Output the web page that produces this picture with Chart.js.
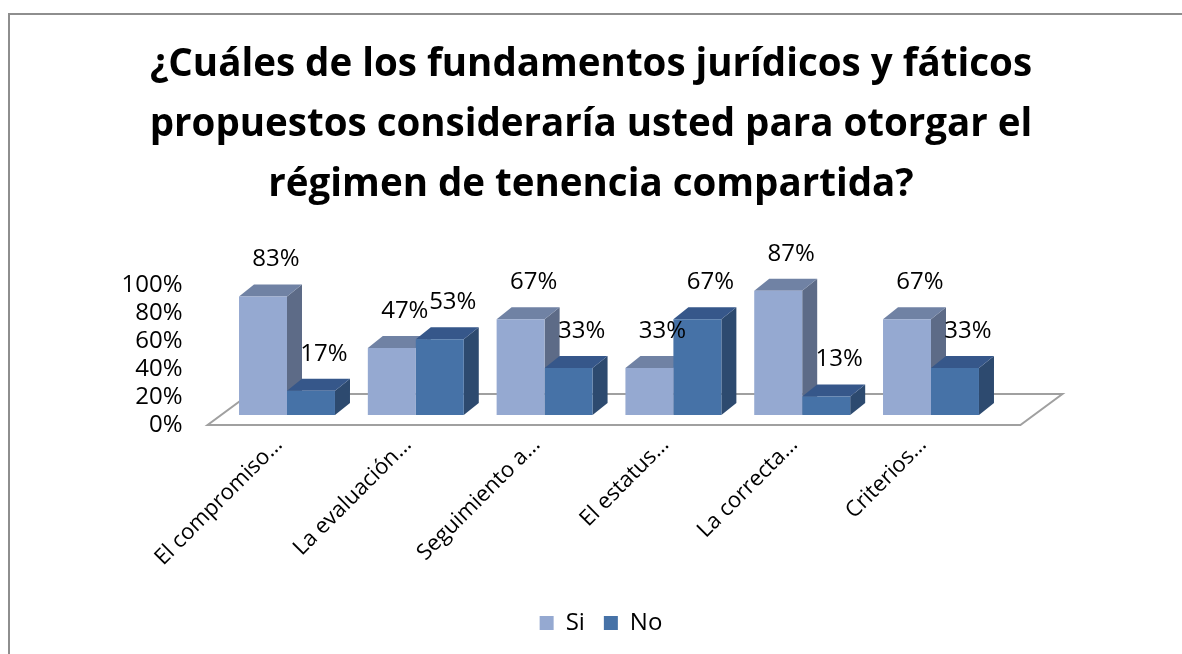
<!DOCTYPE html>
<html>
<head>
<meta charset="utf-8">
<script src="https://cdn.jsdelivr.net/npm/chart.js@4"></script>
<style>
  html, body { margin: 0; padding: 0; background: #fff; overflow: hidden; }
  #wrap { position: relative; width: 1182px; height: 654px; }
  #frame { position: absolute; left: 8px; top: 13px; width: 1400px; height: 900px;
           border-top: 2px solid #8e8e8e; border-left: 2px solid #8e8e8e; pointer-events: none; }
</style>
</head>
<body>
<div id="wrap">
  <canvas id="canvas"></canvas>
  <div id="frame"></div>
</div>
<script>
// chart data
const categories = ['El compromiso…', 'La evaluación…', 'Seguimiento a…', 'El estatus…', 'La correcta…', 'Criterios…'];
const siValues = [83, 47, 67, 33, 87, 67];
const noValues = [17, 53, 33, 67, 13, 33];
const yTicks = [0, 20, 40, 60, 80, 100];
const titleLines = [
  '¿Cuáles de los fundamentos jurídicos y fáticos',
  'propuestos consideraría usted para otorgar el',
  'régimen de tenencia compartida?'
];

// colours: front, top, side
const frontColors = ['#95a9d1', '#4672a7'];
const topColors = ['#7082a4', '#36578a'];
const sideColors = ['#5d6b87', '#2d4a6f'];

const FONT = '"Open Sans", sans-serif';
const dx = 15, dy = -12;

function poly(ctx, pts, fill) {
  ctx.beginPath();
  ctx.moveTo(pts[0][0], pts[0][1]);
  for (let k = 1; k < pts.length; k++) ctx.lineTo(pts[k][0], pts[k][1]);
  ctx.closePath();
  ctx.fillStyle = fill;
  ctx.fill();
}

// floor + side/top faces of the bars (fronts are drawn by chart.js)
const box3d = {
  id: 'box3d',
  afterLayout(chart) {
    // legend sits a little right of centre in the original
    chart.legend.left += 10;
    chart.legend.right += 10;
  },
  beforeDatasetsDraw(chart) {
    const ctx = chart.ctx;
    const a = chart.chartArea;
    ctx.save();
    // floor
    const fl = a.left - 15, fr = a.right + 25, fb = a.bottom;
    ctx.beginPath();
    ctx.moveTo(fl, fb);
    ctx.lineTo(fr, fb);
    ctx.lineTo(fr + 42, fb - 31);
    ctx.lineTo(fl + 42, fb - 31);
    ctx.closePath();
    ctx.fillStyle = '#fff';
    ctx.fill();
    ctx.strokeStyle = '#a0a0a0';
    ctx.lineWidth = 2;
    ctx.stroke();

    const n = chart.data.labels.length;
    for (let j = 0; j < n; j++) {
      for (let i = 0; i < chart.data.datasets.length; i++) {
        const bar = chart.getDatasetMeta(i).data[j];
        const l = bar.x - bar.width / 2, r = bar.x + bar.width / 2;
        const t = bar.y, b = bar.base;
        poly(ctx, [[r, t], [r + dx, t + dy], [r + dx, b + dy], [r, b]], sideColors[i]);
        poly(ctx, [[l, t], [l + dx, t + dy], [r + dx, t + dy], [r, t]], topColors[i]);
      }
    }
    ctx.restore();
  },
  afterDatasetsDraw(chart) {
    const ctx = chart.ctx;
    ctx.save();
    ctx.font = '24px ' + FONT;
    ctx.fillStyle = '#000';
    ctx.textAlign = 'center';
    ctx.textBaseline = 'middle';
    chart.data.datasets.forEach((ds, i) => {
      chart.getDatasetMeta(i).data.forEach((bar, j) => {
        ctx.fillText(ds.data[j] + '%', bar.x + 13, bar.y - 37);
      });
    });
    ctx.restore();
  }
};

const data = {
  labels: categories,
  datasets: [
    { label: 'Si', data: siValues, backgroundColor: frontColors[0], yAxisID: 'y' },
    { label: 'No', data: noValues, backgroundColor: frontColors[1], yAxisID: 'y' }
  ]
};

const config = {
  type: 'bar',
  data,
  plugins: [box3d],
  options: {
    responsive: true,
    maintainAspectRatio: false,
    animation: false,
    layout: { padding: { left: 0, right: 0, top: 0, bottom: 9 } },
    datasets: {
      bar: { barPercentage: 1, categoryPercentage: 0.745, borderWidth: 0 }
    },
    scales: {
      x: {
        grid: { display: false, drawTicks: false },
        border: { display: false },
        ticks: {
          color: '#000', font: { family: FONT, size: 22 },
          minRotation: 45, maxRotation: 45, autoSkip: false, padding: 7, labelOffset: -8
        },
        afterFit: s => { s.height = 167; }
      },
      y: {
        position: 'right',
        min: -7.04, max: 115.5,
        grid: { display: false, drawTicks: false },
        border: { display: false },
        ticks: { display: false },
        afterFit: s => { s.width = 186.6; }
      },
      yLab: {
        position: 'left',
        min: 0, max: 125.2,
        grid: { display: false, drawTicks: false },
        border: { display: false },
        ticks: {
          color: '#000', font: { family: FONT, size: 24 }, padding: 40,
          callback: v => v + '%'
        },
        afterBuildTicks: s => { s.ticks = yTicks.map(v => ({ value: v })); },
        afterFit: s => { s.width = 222.6; }
      }
    },
    plugins: {
      title: {
        display: true,
        text: titleLines,
        color: '#000',
        font: { family: FONT, size: 38.5, weight: 'bold', lineHeight: 1.56 },
        padding: { top: 35, bottom: 35 }
      },
      legend: {
        position: 'bottom',
        labels: {
          color: '#000', font: { family: FONT, size: 24 },
          boxWidth: 14, boxHeight: 14, padding: 19
        }
      },
      tooltip: { enabled: false }
    }
  }
};

let myChart = new Chart(document.getElementById('canvas'), config);
</script>
</body>
</html>
